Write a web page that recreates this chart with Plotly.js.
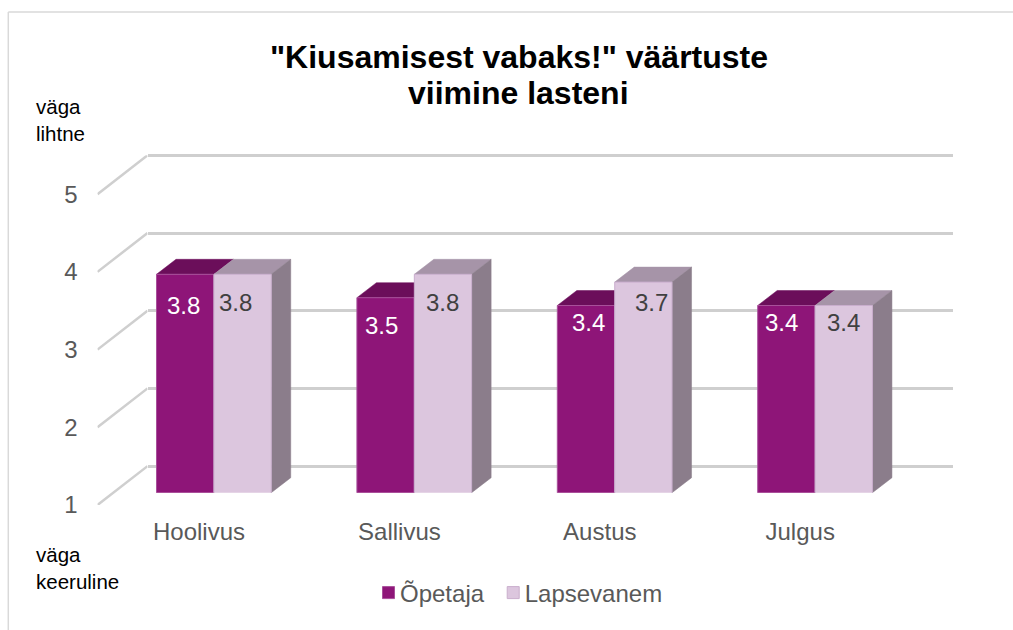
<!DOCTYPE html>
<html>
<head>
<meta charset="utf-8">
<script src="https://cdn.plot.ly/plotly-3.0.1.min.js"></script>
<style>html,body{margin:0;padding:0;background:#fff}</style>
</head>
<body>
<div id="chart" style="width:1013px;height:630px"></div>
<script>
const categories = ['Hoolivus', 'Sallivus', 'Austus', 'Julgus'];
const teacherValues = [3.8, 3.5, 3.4, 3.4];
const parentValues = [3.8, 3.8, 3.7, 3.4];
const scaleTicks = [1, 2, 3, 4, 5];

const W = 1013, H = 630, FONT = '"Liberation Sans", Arial, sans-serif';
const px = v => v / W, py = v => 1 - v / H;
const GRID = '#cfcfcf';
const C = {
  teacher: {front: '#8e1578', top: '#6b0e5a', edge: '#a8509a'},
  parent: {front: '#dcc6de', top: '#a694a8', side: '#8b7d8b', edge: '#c9aecd'}
};
const BAR_W = 0.286, OFFSET_T = -0.212, OFFSET_P = 0.0745;
const DEPTH_X = 0.0973, DEPTH_Y = 0.1923;

function topFace(i, off, v) {
  const a = i + off, b = a + BAR_W;
  return {x: [a, b, b + DEPTH_X, a + DEPTH_X, a], y: [v, v, v + DEPTH_Y, v + DEPTH_Y, v]};
}
function sideFace(i, off, v) {
  const b = i + off + BAR_W;
  return {x: [b, b + DEPTH_X, b + DEPTH_X, b, b], y: [1, 1 + DEPTH_Y, v + DEPTH_Y, v, 1]};
}
function face(f, color) {
  return {type: 'scatter', mode: 'lines', x: f.x, y: f.y, xaxis: 'x3', yaxis: 'y3', fill: 'toself',
    fillcolor: color, line: {width: 0.5, color: color}, showlegend: false, hoverinfo: 'skip'};
}

const diagX = [], diagY = [];
scaleTicks.forEach(t => { diagX.push(0, 1, null); diagY.push(t, t + 0.5, null); });

const traces = [
  {type: 'scatter', mode: 'lines', x: [0, 1], y: [1, 1], xaxis: 'x', yaxis: 'y', line: {width: 0}, showlegend: false, hoverinfo: 'skip'},
  {type: 'scatter', mode: 'lines', x: diagX, y: diagY, xaxis: 'x2', yaxis: 'y2', cliponaxis: false,
    line: {color: GRID, width: 2.5}, showlegend: false, hoverinfo: 'skip'}
];
teacherValues.forEach((v, i) => traces.push(face(topFace(i, OFFSET_T, v), C.teacher.top)));
parentValues.forEach((v, i) => {
  traces.push(face(topFace(i, OFFSET_P, v), C.parent.top));
  traces.push(face(sideFace(i, OFFSET_P, v), C.parent.side));
});
traces.push(
  {type: 'bar', name: 'Õpetaja', x: categories, y: teacherValues, xaxis: 'x4', yaxis: 'y4',
    width: BAR_W, offset: OFFSET_T, marker: {color: C.teacher.front, line: {color: C.teacher.edge, width: 1}}},
  {type: 'bar', name: 'Lapsevanem', x: categories, y: parentValues, xaxis: 'x4', yaxis: 'y4',
    width: BAR_W, offset: OFFSET_P, marker: {color: C.parent.front, line: {color: C.parent.edge, width: 1}}}
);

const labelShiftT = [[-1.5, -31], [-4, -28], [3, -17], [-5, -17]];
const labelShiftP = [[-7, -28], [0, -28], [8, -20], [0, -17]];
function valueNote(i, v, off, shift, color) {
  return {xref: 'x4', yref: 'y4', x: i + off + BAR_W / 2, y: v, text: v.toFixed(1), showarrow: false,
    xanchor: 'center', yanchor: 'middle', xshift: shift[0], yshift: shift[1],
    font: {family: FONT, size: 24, color: color}};
}
const annotations = [];
teacherValues.forEach((v, i) => annotations.push(valueNote(i, v, OFFSET_T, labelShiftT[i], '#ffffff')));
parentValues.forEach((v, i) => annotations.push(valueNote(i, v, OFFSET_P, labelShiftP[i], '#404040')));
annotations.push(
  {xref: 'paper', yref: 'paper', x: px(518), y: py(93), text: '<b>viimine lasteni</b>', showarrow: false,
    xanchor: 'center', yanchor: 'middle', font: {family: FONT, size: 32, color: '#000'}},
  {xref: 'paper', yref: 'paper', x: px(34), y: py(120.5), text: 'väga<br>lihtne', showarrow: false, align: 'left',
    xanchor: 'left', yanchor: 'middle', font: {family: FONT, size: 20.5, color: '#000'}},
  {xref: 'paper', yref: 'paper', x: px(34), y: py(567.5), text: 'väga<br>keeruline', showarrow: false, align: 'left',
    xanchor: 'left', yanchor: 'middle', font: {family: FONT, size: 20.5, color: '#000'}}
);

const hiddenAxis = {visible: false, fixedrange: true};
const layout = {
  width: W, height: H, margin: {l: 0, r: 0, t: 0, b: 0}, paper_bgcolor: '#fff', plot_bgcolor: 'rgba(0,0,0,0)',
  barmode: 'overlay', font: {family: FONT, color: '#595959'},
  title: {text: '<b>"Kiusamisest vabaks!" väärtuste</b>', x: px(519), xanchor: 'center', xref: 'paper',
    y: py(57), yref: 'paper', yanchor: 'middle', font: {family: FONT, size: 32, color: '#000'}},
  xaxis: {domain: [px(147.5), px(953)], range: [0, 1], anchor: 'y', visible: false},
  yaxis: {domain: [py(474.07), py(147.53)], range: [0.9, 5.1], anchor: 'x', tickvals: scaleTicks, showticklabels: false,
    showgrid: true, gridcolor: GRID, gridwidth: 3, zeroline: false, ticks: '', showline: false},
  xaxis2: {domain: [px(97.5), px(147.5)], range: [0, 1], anchor: 'y2', visible: false},
  yaxis2: {domain: [py(505), py(155.3)], range: [1, 5.5], anchor: 'x2', tickvals: scaleTicks, showgrid: false,
    zeroline: false, showline: false, ticks: 'outside', ticklen: 14, tickcolor: 'rgba(0,0,0,0)',
    tickfont: {family: FONT, size: 24, color: '#595959'}},
  xaxis3: Object.assign({domain: [px(98.8), px(900.4)], range: [-0.5, 3.5], anchor: 'y3', type: 'linear'}, hiddenAxis),
  yaxis3: Object.assign({domain: [py(492.7), py(180.7)], range: [1, 5], anchor: 'x3'}, hiddenAxis),
  xaxis4: {domain: [px(98.8), px(900.4)], range: [-0.5, 3.5], anchor: 'y4', type: 'category', categoryarray: categories,
    showgrid: false, zeroline: false, showline: false, ticks: 'outside', ticklen: 17, tickcolor: 'rgba(0,0,0,0)',
    tickfont: {family: FONT, size: 24, color: '#595959'}},
  yaxis4: {domain: [py(492.7), py(180.7)], range: [1, 5], anchor: 'x4', visible: false},
  legend: {orientation: 'h', x: px(360), xanchor: 'left', y: py(593), yanchor: 'middle', bgcolor: 'rgba(0,0,0,0)',
    traceorder: 'normal', font: {family: FONT, size: 24, color: '#595959'}},
  annotations: annotations,
  shapes: [
    {type: 'line', xref: 'paper', yref: 'paper', x0: px(8.3), x1: px(8.3), y0: py(12), y1: 0, line: {color: '#d9d9d9', width: 1.5}},
    {type: 'line', xref: 'paper', yref: 'paper', x0: px(8.3), x1: 1, y0: py(12), y1: py(12), line: {color: '#d9d9d9', width: 1.5}}
  ]
};
Plotly.newPlot('chart', traces, layout, {displayModeBar: false, staticPlot: true}).then(() => {
  // Excel-style legend: swatch sits close to its label, entries sit closer together
  document.querySelectorAll('.legend g.legendpoints').forEach(g => g.setAttribute('transform', 'translate(8.5,0)'));
  const second = document.querySelectorAll('.legend g.traces')[1];
  if (second) {
    const m = /translate\(([-\d.]+)[ ,]+([-\d.]+)\)/.exec(second.getAttribute('transform') || '');
    if (m) second.setAttribute('transform', 'translate(' + (parseFloat(m[1]) - 5) + ',' + m[2] + ')');
  }
});
</script>
</body>
</html>
